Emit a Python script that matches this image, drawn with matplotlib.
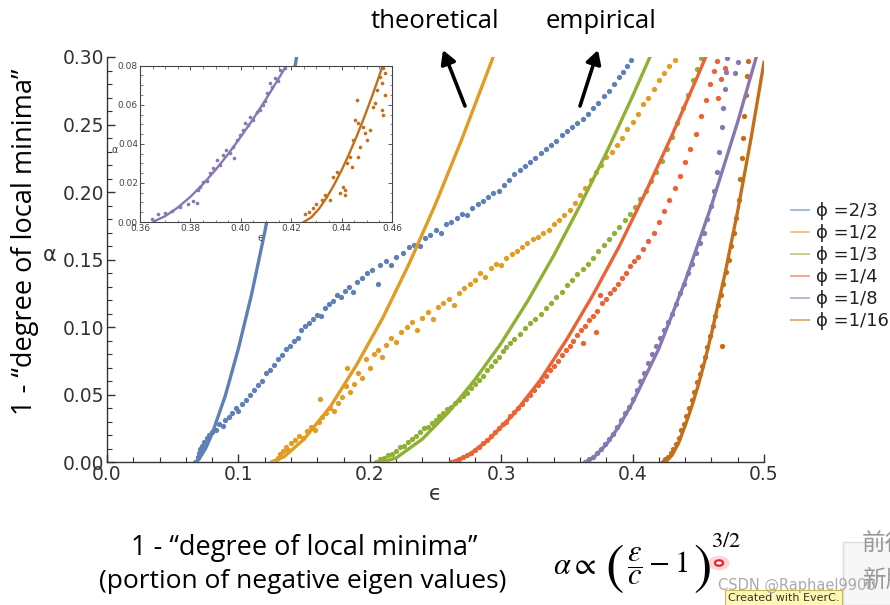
import numpy as np
import matplotlib
matplotlib.use("Agg")
import matplotlib.pyplot as plt
from matplotlib.lines import Line2D
from matplotlib.patches import FancyArrowPatch, Circle, Rectangle

# Mathematica default colours
colors = ["#5E81B5", "#E19C24", "#8FB032", "#EB6235", "#8778B3", "#C56E1A"]
phi_labels = ["ϕ =2/3", "ϕ =1/2", "ϕ =1/3", "ϕ =1/4", "ϕ =1/8", "ϕ =1/16"]

# empirical points (eps, alpha)
emp_23 = [(0.068,0.000),(0.069,0.004),(0.070,0.007),(0.071,0.010),(0.072,0.012),(0.074,0.015),(0.076,0.018),
          (0.078,0.020),(0.080,0.022),(0.083,0.024),(0.085,0.028),(0.088,0.027),(0.090,0.031),(0.093,0.033),
          (0.095,0.036),(0.098,0.040),(0.100,0.038),(0.103,0.043),(0.106,0.046),(0.109,0.050),(0.112,0.053),
          (0.115,0.057),(0.118,0.060),(0.121,0.066),(0.124,0.068),(0.127,0.072),(0.130,0.076),(0.133,0.079),
          (0.136,0.084),(0.139,0.086),(0.142,0.090),(0.145,0.092),(0.148,0.098),(0.151,0.101),(0.154,0.103),
          (0.157,0.106),(0.160,0.109),(0.163,0.108),(0.166,0.114),(0.169,0.117),(0.172,0.119),(0.175,0.124),
          (0.178,0.122),(0.181,0.127),(0.184,0.130),(0.187,0.126),(0.190,0.133),(0.194,0.136),(0.198,0.140),
          (0.202,0.142),(0.206,0.132),(0.208,0.146),(0.212,0.149),(0.216,0.146),(0.220,0.152),(0.225,0.155),
          (0.230,0.159),(0.234,0.161),(0.238,0.160),(0.242,0.166),(0.246,0.168),(0.250,0.172),(0.254,0.170),
          (0.258,0.176),(0.262,0.178),(0.266,0.181),(0.270,0.184),(0.274,0.183),(0.278,0.188),(0.282,0.191),
          (0.286,0.193),(0.290,0.196),(0.294,0.199),(0.298,0.201),(0.302,0.205),(0.306,0.209),(0.310,0.213),
          (0.314,0.216),(0.318,0.219),(0.322,0.222),(0.326,0.225),(0.330,0.229),(0.334,0.232),(0.338,0.235),
          (0.342,0.238),(0.346,0.242),(0.350,0.245),(0.354,0.248),(0.358,0.251),(0.362,0.254),(0.366,0.258),
          (0.370,0.262),(0.374,0.266),(0.378,0.271),(0.382,0.275),(0.386,0.280),(0.390,0.285),(0.393,0.289),
          (0.396,0.293),(0.399,0.298)]
emp_12 = [(0.128,0.000),(0.130,0.003),(0.132,0.006),(0.134,0.008),(0.136,0.011),(0.138,0.009),(0.140,0.014),
          (0.143,0.016),(0.146,0.019),(0.149,0.018),(0.152,0.023),(0.155,0.026),(0.158,0.024),(0.161,0.030),
          (0.162,0.047),(0.164,0.033),(0.167,0.036),(0.170,0.040),(0.173,0.038),(0.176,0.044),(0.179,0.048),
          (0.182,0.056),(0.183,0.070),(0.185,0.052),(0.188,0.058),(0.191,0.066),(0.194,0.062),(0.197,0.076),
          (0.200,0.070),(0.203,0.080),(0.206,0.083),(0.209,0.078),(0.212,0.087),(0.216,0.092),(0.220,0.089),
          (0.224,0.096),(0.228,0.100),(0.232,0.104),(0.236,0.098),(0.240,0.107),(0.244,0.111),(0.248,0.106),
          (0.252,0.115),(0.256,0.118),(0.260,0.121),(0.264,0.116),(0.268,0.125),(0.272,0.129),(0.276,0.132),
          (0.280,0.135),(0.284,0.140),(0.288,0.137),(0.292,0.144),(0.296,0.147),(0.300,0.146),(0.304,0.151),
          (0.308,0.154),(0.312,0.156),(0.316,0.159),(0.320,0.162),(0.324,0.165),(0.328,0.167),(0.332,0.170),
          (0.336,0.172),(0.340,0.176),(0.344,0.179),(0.348,0.183),(0.352,0.187),(0.356,0.192),(0.360,0.198),
          (0.364,0.203),(0.368,0.209),(0.372,0.215),(0.376,0.220),(0.380,0.226),(0.384,0.230),(0.388,0.235),
          (0.392,0.240),(0.396,0.247),(0.400,0.252),(0.404,0.258),(0.408,0.265),(0.412,0.270),(0.416,0.276),
          (0.420,0.283),(0.424,0.288),(0.428,0.293),(0.432,0.298)]
emp_13 = [(0.205,0.000),(0.208,0.002),(0.211,0.003),(0.214,0.005),(0.217,0.006),(0.220,0.008),(0.223,0.011),
          (0.226,0.012),(0.229,0.015),(0.232,0.017),(0.235,0.019),(0.238,0.022),(0.241,0.025),(0.244,0.026),
          (0.247,0.029),(0.250,0.031),(0.253,0.034),(0.256,0.036),(0.259,0.039),(0.262,0.041),(0.265,0.044),
          (0.268,0.046),(0.271,0.049),(0.274,0.051),(0.277,0.055),(0.280,0.058),(0.283,0.061),(0.286,0.064),
          (0.289,0.068),(0.292,0.071),(0.295,0.075),(0.298,0.078),(0.301,0.082),(0.304,0.085),(0.307,0.088),
          (0.310,0.091),(0.314,0.095),(0.318,0.099),(0.322,0.103),(0.326,0.106),(0.330,0.110),(0.334,0.114),
          (0.338,0.118),(0.342,0.122),(0.346,0.126),(0.350,0.131),(0.354,0.135),(0.358,0.139),(0.362,0.143),
          (0.366,0.147),(0.370,0.151),(0.374,0.156),(0.378,0.161),(0.382,0.165),(0.386,0.170),(0.390,0.174),
          (0.394,0.179),(0.398,0.184),(0.402,0.189),(0.406,0.195),(0.410,0.201),(0.414,0.208),(0.418,0.215),
          (0.422,0.223),(0.426,0.232),(0.430,0.241),(0.434,0.251),(0.438,0.262),(0.442,0.272),(0.446,0.283),
          (0.449,0.291),(0.452,0.299)]
emp_14 = [(0.262,0.000),(0.265,0.001),(0.268,0.002),(0.271,0.004),(0.274,0.005),(0.277,0.007),(0.280,0.009),
          (0.283,0.011),(0.286,0.014),(0.289,0.016),(0.292,0.019),(0.295,0.022),(0.298,0.025),(0.301,0.028),
          (0.304,0.030),(0.307,0.034),(0.310,0.037),(0.313,0.040),(0.316,0.043),(0.319,0.047),(0.322,0.050),
          (0.325,0.053),(0.328,0.057),(0.331,0.060),(0.334,0.064),(0.337,0.068),(0.340,0.071),(0.343,0.075),
          (0.346,0.079),(0.349,0.083),(0.352,0.086),(0.355,0.090),(0.358,0.094),(0.361,0.098),(0.362,0.088),
          (0.364,0.101),(0.367,0.105),(0.370,0.108),(0.372,0.096),(0.373,0.112),(0.375,0.124),(0.377,0.118),
          (0.380,0.121),(0.383,0.125),(0.386,0.128),(0.389,0.132),(0.392,0.136),(0.395,0.140),(0.398,0.145),
          (0.401,0.149),(0.404,0.152),(0.408,0.158),(0.412,0.164),(0.416,0.170),(0.420,0.178),(0.424,0.186),
          (0.428,0.194),(0.432,0.203),(0.436,0.212),(0.440,0.222),(0.444,0.232),(0.448,0.243),(0.452,0.256),
          (0.456,0.268),(0.459,0.280),(0.462,0.290),(0.464,0.297),(0.465,0.270),(0.467,0.284),(0.470,0.292)]
emp_18 = [(0.364,0.000),(0.367,0.002),(0.370,0.004),(0.373,0.007),(0.376,0.010),(0.379,0.013),(0.382,0.017),
          (0.385,0.021),(0.388,0.026),(0.391,0.031),(0.394,0.036),(0.397,0.041),(0.400,0.047),(0.403,0.053),
          (0.406,0.060),(0.409,0.066),(0.412,0.073),(0.415,0.080),(0.418,0.086),(0.421,0.092),(0.424,0.098),
          (0.427,0.104),(0.430,0.110),(0.433,0.117),(0.436,0.125),(0.439,0.132),(0.442,0.140),(0.445,0.147),
          (0.448,0.155),(0.451,0.162),(0.454,0.170),(0.457,0.180),(0.460,0.190),(0.462,0.201),(0.464,0.215),
          (0.466,0.230),(0.468,0.248),(0.469,0.262),(0.470,0.276),(0.471,0.289),(0.472,0.299),(0.478,0.288),
          (0.480,0.296)]
emp_116 = [(0.423,0.000),(0.425,0.002),(0.427,0.004),(0.429,0.007),(0.431,0.010),(0.433,0.013),(0.435,0.018),
           (0.437,0.024),(0.439,0.028),(0.441,0.034),(0.443,0.040),(0.445,0.046),(0.447,0.052),(0.449,0.059),
           (0.451,0.065),(0.453,0.071),(0.455,0.078),(0.457,0.085),(0.459,0.093),(0.461,0.101),(0.463,0.108),
           (0.465,0.116),(0.467,0.124),(0.468,0.086),(0.469,0.132),(0.471,0.141),(0.473,0.150),(0.475,0.160),
           (0.477,0.170),(0.479,0.181),(0.481,0.194),(0.482,0.210),(0.483,0.225),(0.484,0.240),(0.485,0.256),
           (0.486,0.272),(0.487,0.286),(0.488,0.297)]

# theoretical curves
th_x_23 = [0.067, 0.070, 0.075, 0.080, 0.090, 0.100, 0.110, 0.120, 0.130, 0.140, 0.146]
th_y_23 = [0.000, 0.002, 0.010, 0.021, 0.049, 0.084, 0.124, 0.170, 0.221, 0.275, 0.310]
th_x_12 = [0.125, 0.135, 0.150, 0.170, 0.190, 0.210, 0.230, 0.250, 0.270, 0.290, 0.295]
th_y_12 = [0.000, 0.004, 0.017, 0.041, 0.072, 0.107, 0.147, 0.191, 0.239, 0.290, 0.303]
th_x_13 = [0.210, 0.220, 0.240, 0.260, 0.280, 0.300, 0.320, 0.340, 0.360, 0.380, 0.400, 0.420]
th_y_13 = [0.000, 0.003, 0.017, 0.037, 0.061, 0.088, 0.119, 0.153, 0.190, 0.229, 0.271, 0.315]
th_x_14 = [0.263, 0.275, 0.290, 0.310, 0.330, 0.350, 0.370, 0.390, 0.410, 0.430, 0.450, 0.460]
th_y_14 = [0.000, 0.005, 0.016, 0.036, 0.061, 0.091, 0.124, 0.160, 0.200, 0.242, 0.287, 0.310]
th_x_18 = [0.364, 0.370, 0.380, 0.390, 0.400, 0.420, 0.440, 0.460, 0.480, 0.500]
th_y_18 = [0.000, 0.003, 0.013, 0.027, 0.044, 0.084, 0.134, 0.190, 0.252, 0.320]
th_x_116 = [0.425, 0.430, 0.435, 0.440, 0.445, 0.450, 0.455, 0.460, 0.470, 0.480, 0.490, 0.500]
th_y_116 = [0.000, 0.005, 0.014, 0.027, 0.041, 0.057, 0.075, 0.095, 0.138, 0.186, 0.239, 0.296]

# inset (zoom on phi=1/8 and phi=1/16)
ins_emp_18 = [(0.3646,0.0015),(0.3673,0.0039),(0.3700,0.0046),(0.3726,0.0056),(0.3759,0.0078),(0.3790,0.0090),
              (0.3812,0.0110),(0.3825,0.0096),(0.3830,0.0164),(0.3840,0.0181),(0.3851,0.0206),(0.3866,0.0210),
              (0.3878,0.0249),(0.3891,0.0275),(0.3904,0.0317),(0.3918,0.0290),(0.3930,0.0343),(0.3943,0.0368),
              (0.3957,0.0352),(0.3970,0.0385),(0.3972,0.0330),(0.3984,0.0420),(0.3997,0.0445),(0.4010,0.0470),
              (0.4017,0.0505),(0.4030,0.0498),(0.4037,0.0539),(0.4050,0.0520),(0.4063,0.0565),(0.4076,0.0572),
              (0.4089,0.0599),(0.4096,0.0620),(0.4103,0.0659),(0.4116,0.0710),(0.4125,0.0690),(0.4136,0.0735),
              (0.4146,0.0720),(0.4156,0.0778),(0.4175,0.0787)]
ins_emp_116 = [(0.4254,0.0039),(0.4270,0.0050),(0.4288,0.0070),(0.4300,0.0090),(0.4321,0.0113),(0.4335,0.0140),
               (0.4354,0.0113),(0.4367,0.0232),(0.4380,0.0257),(0.4394,0.0147),(0.4407,0.0181),(0.4413,0.0164),
               (0.4413,0.0138),(0.4420,0.0300),(0.4433,0.0334),(0.4440,0.0280),(0.4446,0.0420),(0.4453,0.0522),
               (0.4460,0.0624),(0.4466,0.0505),(0.4466,0.0334),(0.4473,0.0385),(0.4486,0.0488),(0.4493,0.0454),
               (0.4500,0.0420),(0.4513,0.0471),(0.4526,0.0590),(0.4533,0.0607),(0.4539,0.0676),(0.4552,0.0744),
               (0.4559,0.0710),(0.4559,0.0573),(0.4566,0.0548),(0.4573,0.0650),(0.4573,0.0761),(0.4566,0.0787)]
ins_th_x_18 = [0.3655, 0.370, 0.375, 0.380, 0.385, 0.390, 0.395, 0.400, 0.405, 0.410, 0.415, 0.419]
ins_th_y_18 = [0.0003, 0.0030, 0.0074, 0.0129, 0.0194, 0.0267, 0.0348, 0.0436, 0.0529, 0.0629, 0.0734, 0.0820]
ins_th_x_116 = [0.425, 0.428, 0.431, 0.434, 0.437, 0.440, 0.443, 0.446, 0.449, 0.452, 0.455, 0.458]
ins_th_y_116 = [0.000, 0.0024, 0.0067, 0.0123, 0.0190, 0.0265, 0.0349, 0.0439, 0.0537, 0.0640, 0.0750, 0.0870]

emp_all = [emp_23, emp_12, emp_13, emp_14, emp_18, emp_116]
th_all = [(th_x_23, th_y_23), (th_x_12, th_y_12), (th_x_13, th_y_13),
          (th_x_14, th_y_14), (th_x_18, th_y_18), (th_x_116, th_y_116)]

W, H = 890, 605
plt.rcParams["mathtext.fontset"] = "stix"
fig = plt.figure(figsize=(W / 100, H / 100), dpi=100)
fig.patch.set_facecolor("white")


def fx(px):
    return px / W


def fy(py):
    return 1 - py / H


tick_col = "#333333"
ax = fig.add_axes([fx(107), fy(462), fx(764) - fx(107), fy(57) - fy(462)])
for pts, c in zip(emp_all, colors):
    xy = np.array(pts)
    ax.plot(xy[:, 0], xy[:, 1], "o", ms=3.8, mec="none", color=c, zorder=2)
for (tx, ty), c in zip(th_all, colors):
    ax.plot(tx, ty, "-", lw=2.4, color=c, zorder=3)

ax.set_xlim(0, 0.5)
ax.set_ylim(0, 0.30)
ax.spines["top"].set_visible(False)
ax.spines["right"].set_visible(False)
for s in ["left", "bottom"]:
    ax.spines[s].set_color(tick_col)
    ax.spines[s].set_linewidth(1.0)
ax.set_xticks(np.arange(0, 0.51, 0.1))
ax.set_xticklabels(["0.0", "0.1", "0.2", "0.3", "0.4", "0.5"])
ax.set_yticks(np.arange(0, 0.301, 0.05))
ax.set_yticklabels(["0.00", "0.05", "0.10", "0.15", "0.20", "0.25", "0.30"])
ax.set_xticks(np.arange(0, 0.501, 0.02), minor=True)
ax.set_yticks(np.arange(0, 0.301, 0.01), minor=True)
ax.tick_params(which="major", direction="in", length=6, width=1, color=tick_col,
               labelcolor=tick_col, labelsize=13.5, pad=2)
ax.tick_params(which="minor", direction="in", length=3.5, width=0.8, color=tick_col)
ax.patch.set_alpha(0)

fig.text(fx(435), fy(494), "ϵ", fontsize=15, color=tick_col, ha="center", va="center")
fig.text(fx(50), fy(255), "α", fontsize=15, color=tick_col, ha="center", va="center")

# inset
ins = fig.add_axes([fx(140), fy(222), fx(392) - fx(140), fy(65.7) - fy(222)])
ins.set_facecolor("white")
ins.set_zorder(5)
for pts, c in zip([ins_emp_18, ins_emp_116], [colors[4], colors[5]]):
    xy = np.array(pts)
    ins.plot(xy[:, 0], xy[:, 1], "o", ms=2.6, mec="none", color=c)
ins.plot(ins_th_x_18, ins_th_y_18, "-", lw=1.7, color=colors[4])
ins.plot(ins_th_x_116, ins_th_y_116, "-", lw=1.7, color=colors[5])
ins.set_xlim(0.36, 0.46)
ins.set_ylim(0, 0.08)
ins.set_xticks(np.arange(0.36, 0.461, 0.02))
ins.set_xticklabels(["0.36", "0.38", "0.40", "0.42", "0.44", "0.46"])
ins.set_yticks(np.arange(0, 0.081, 0.02))
ins.set_yticklabels(["0.00", "0.02", "0.04", "0.06", "0.08"])
ins.set_xticks(np.arange(0.36, 0.461, 0.005), minor=True)
ins.set_yticks(np.arange(0, 0.081, 0.005), minor=True)
ins.tick_params(which="both", direction="in", top=True, right=True, color="#555555",
                labelcolor="#444444", labelsize=6.5, pad=1.5)
ins.tick_params(which="major", length=3, width=0.7)
ins.tick_params(which="minor", length=1.8, width=0.5)
for s in ins.spines.values():
    s.set_color("#444444")
    s.set_linewidth(0.8)
fig.text(fx(260), fy(238), "ϵ", fontsize=7, color="#444444", ha="center", va="center", zorder=6)
fig.text(fx(115), fy(150), "α", fontsize=7, color="#444444", ha="center", va="center", zorder=6)

# legend
handles = [Line2D([0], [0], color=c, lw=1.3, alpha=0.6) for c in colors]
fig.legend(handles, phi_labels, loc="upper left", bbox_to_anchor=(fx(782), fy(193)),
           frameon=False, fontsize=13, handlelength=1.0, handletextpad=0.4,
           labelspacing=0.22, borderpad=0, labelcolor="#222222")

# annotations
txt_font = ["Open Sans", "DejaVu Sans"]
fig.text(fx(435), fy(21), "theoretical", fontsize=18.5, family=txt_font, ha="center", va="center")
fig.text(fx(601), fy(21), "empirical", fontsize=18.5, family=txt_font, ha="center", va="center")
for (x0, y0), (x1, y1) in [((465, 106), (443, 50)), ((580, 106), (598, 50))]:
    fig.add_artist(FancyArrowPatch((fx(x0), fy(y0)), (fx(x1), fy(y1)), transform=fig.transFigure,
                                   arrowstyle="-|>,head_length=8,head_width=4.5", lw=2.6, color="black",
                                   shrinkA=0, shrinkB=0))

fig.text(fx(25), fy(242), "1 - “degree of local minima”", fontsize=19.5, family=txt_font,
         rotation=90, ha="center", va="center")
fig.text(fx(304), fy(548), "1 - “degree of local minima”", fontsize=19.5, family=txt_font,
         ha="center", va="center")
fig.text(fx(303), fy(582), "(portion of negative eigen values)", fontsize=19, family=txt_font,
         ha="center", va="center")

# formula: alpha ∝ (eps/c - 1)^(3/2), parentheses drawn large
fig.text(fx(553), fy(566), r"$\alpha \propto$", fontsize=22, ha="left", va="center")
fig.text(fx(614), fy(568), r"$($", fontsize=40, ha="center", va="center")
fig.text(fx(627), fy(566), r"$\dfrac{\varepsilon}{c} - 1$", fontsize=22, ha="left", va="center")
fig.text(fx(702), fy(568), r"$)$", fontsize=40, ha="center", va="center")
fig.text(fx(711), fy(541), r"$3/2$", fontsize=16, ha="left", va="center")

# screenshot leftovers
fig.add_artist(Circle((fx(719), fy(563)), 0.012, transform=fig.transFigure,
                      color=(1, 0.55, 0.55, 0.35), lw=0))
fig.add_artist(Circle((fx(719), fy(563)), 0.0045, transform=fig.transFigure,
                      facecolor="white", edgecolor="#E8202A", lw=1.6))
fig.add_artist(Rectangle((fx(843), fy(605)), fx(60), fx(92), transform=fig.transFigure,
                         facecolor="#F7F7F7", edgecolor="#DDDDDD", lw=1))
fig.text(fx(862), fy(543), "前往", fontsize=17, color="#999999",
         family=["Noto Sans CJK SC", "DejaVu Sans"], ha="left", va="center")
fig.text(fx(862), fy(580), "新版", fontsize=17, color="#999999",
         family=["Noto Sans CJK SC", "DejaVu Sans"], ha="left", va="center")
fig.text(fx(728), fy(598), "Created with EverC.", fontsize=8, color="#333333", ha="left", va="center",
         bbox=dict(boxstyle="square,pad=0.25", facecolor="#FFF8B0", edgecolor="#C8B860", lw=0.8))
fig.text(fx(797), fy(585), "CSDN @Raphael9900", fontsize=10.5, color="#AAAAAA", ha="center", va="center")

fig.savefig("out.png", dpi=100, facecolor="white")
